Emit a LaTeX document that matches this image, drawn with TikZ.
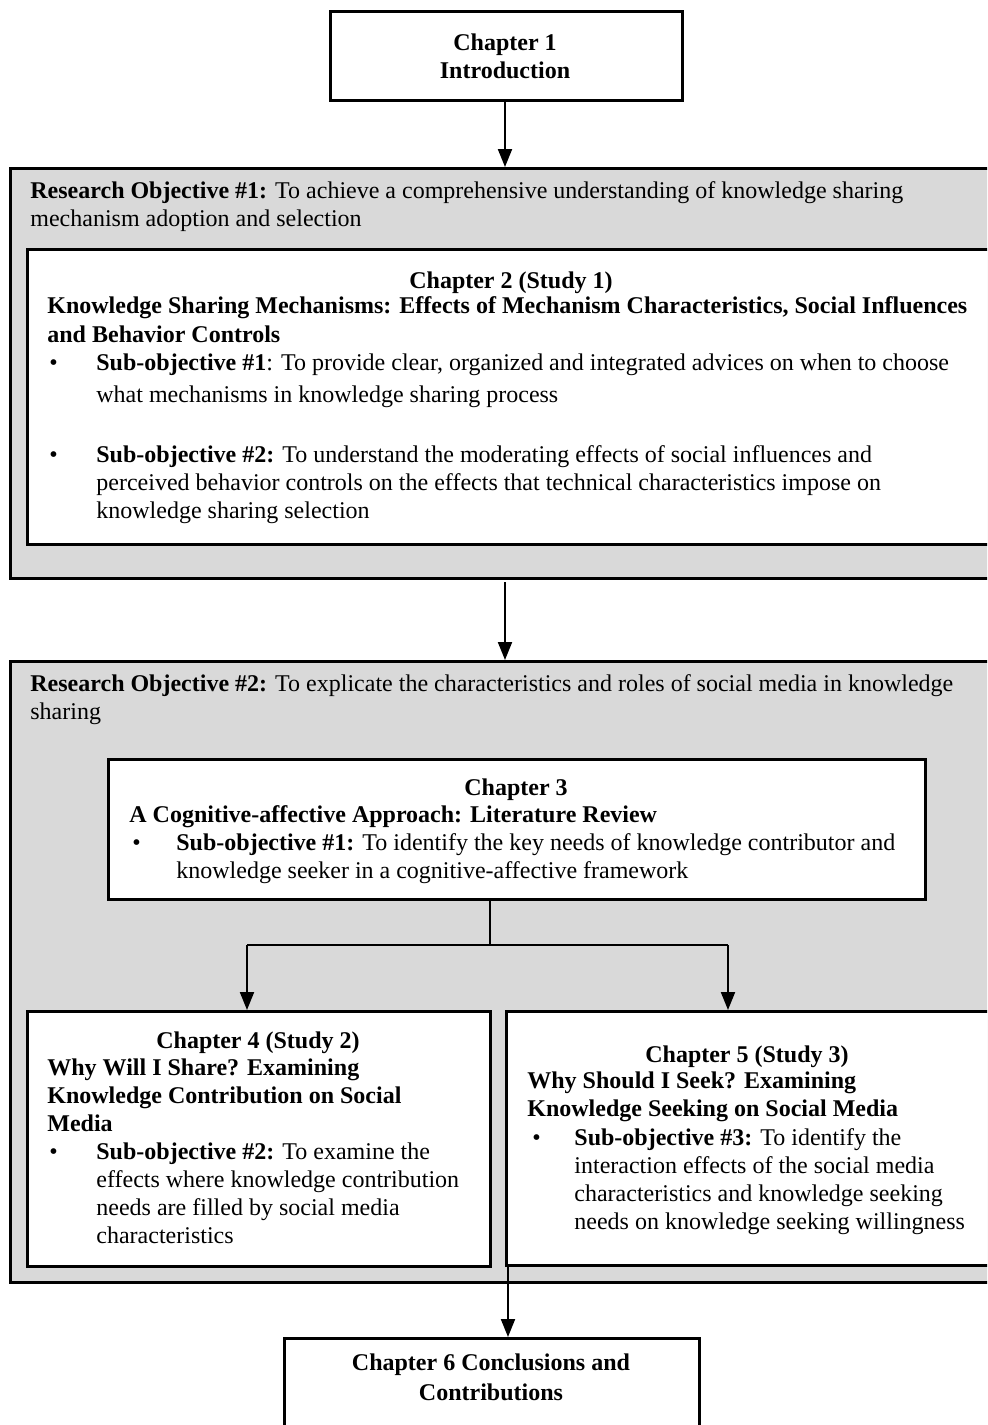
\documentclass[tikz,border=0pt]{standalone}
\usepackage{fontspec}
\setmainfont{Liberation Serif}
\usetikzlibrary{arrows.meta}
\definecolor{panelgray}{HTML}{D9D9D9}
% multi-line blocks whose reference point is the baseline of their first line
\newcommand\leftlines[1]{\begin{tabular}[t]{@{}l@{}}#1\end{tabular}}
\newcommand\midlines[1]{\begin{tabular}[t]{@{}c@{}}#1\end{tabular}}

\begin{document}
\begin{tikzpicture}[x=0.5pt,y=-0.5pt,
  panel/.style={draw, line width=1.5pt, fill=panelgray, anchor=north west, inner sep=0pt},
  card/.style={draw, line width=1.5pt, fill=white, anchor=north west, inner sep=0pt},
  txt/.style={anchor=base west, inner sep=0pt, font=\fontsize{12}{14}\selectfont},
  head/.style={anchor=base, inner sep=0pt, font=\bfseries\fontsize{12}{14}\selectfont},
  flow/.style={line width=1pt, -{Triangle[length=9pt,width=7pt]}},
]
\useasboundingbox (0,0) rectangle (987,1425);
\clip (0,0) rectangle (987,1425);

% ---- boxes ----
\node[card, minimum width=176pt, minimum height=44.5pt] (ch1) at (329,10) {};
\node[panel, minimum width=495.5pt, minimum height=205pt] (obj1) at (9,167) {};
\node[card, minimum width=484.5pt, minimum height=147.5pt] (ch2) at (26,248) {};
\node[panel, minimum width=495.5pt, minimum height=310.5pt] (obj2) at (9,660) {};
\node[card, minimum width=408.5pt, minimum height=70pt] (ch3) at (107,758) {};
\node[card, minimum width=231.5pt, minimum height=127.5pt] (ch4) at (26,1010) {};
\node[card, minimum width=245pt, minimum height=127pt] (ch5) at (505,1010) {};
\node[card, minimum width=207.5pt, minimum height=61.5pt] (ch6) at (283,1337) {};

% ---- texts ----
\node[head] (t1) at (505,50) {\midlines{Chapter 1\\Introduction}};

\node[txt] (t2) at (30,198) {\leftlines{\textbf{Research Objective \#1:} To achieve a comprehensive understanding of knowledge sharing\\mechanism adoption and selection}};
\node[head] (t3) at (511,288) {Chapter 2 (Study 1)};
\node[txt, font=\bfseries\fontsize{12}{14}\selectfont] (t4) at (47,313) {\leftlines{Knowledge Sharing Mechanisms: Effects of Mechanism Characteristics, Social Influences\\[0.5pt]and Behavior Controls}};
\node[txt] (b1) at (49,370) {•};
\node[txt] (t5) at (96,370) {\leftlines{\textbf{Sub-objective \#1}: To provide clear, organized and integrated advices on when to choose\\[2pt]what mechanisms in knowledge sharing process}};
\node[txt] (b2) at (49,462) {•};
\node[txt] (t6) at (96,462) {\leftlines{\textbf{Sub-objective \#2:} To understand the moderating effects of social influences and\\perceived behavior controls on the effects that technical characteristics impose on\\knowledge sharing selection}};

\node[txt] (t7) at (30,691) {\leftlines{\textbf{Research Objective \#2:} To explicate the characteristics and roles of social media in knowledge\\sharing}};
\node[head] (t8) at (516,795) {Chapter 3};
\node[txt, font=\bfseries\fontsize{12}{14}\selectfont] (t9) at (129,822) {A Cognitive-affective Approach: Literature Review};
\node[txt] (b3) at (132,850) {•};
\node[txt] (t10) at (176,850) {\leftlines{\textbf{Sub-objective \#1:} To identify the key needs of knowledge contributor and\\knowledge seeker in a cognitive-affective framework}};

\node[head] (t11) at (258,1048) {Chapter 4 (Study 2)};
\node[txt, font=\bfseries\fontsize{12}{14}\selectfont] (t12) at (47,1075) {\leftlines{Why Will I Share? Examining\\Knowledge Contribution on Social\\Media}};
\node[txt] (b4) at (49,1159) {•};
\node[txt] (t13) at (96,1159) {\leftlines{\textbf{Sub-objective \#2:} To examine the\\effects where knowledge contribution\\needs are filled by social media\\characteristics}};

\node[head] (t14) at (747,1062) {Chapter 5 (Study 3)};
\node[txt, font=\bfseries\fontsize{12}{14}\selectfont] (t15) at (527,1088) {\leftlines{Why Should I Seek? Examining\\Knowledge Seeking on Social Media}};
\node[txt] (b5) at (532,1145) {•};
\node[txt] (t16) at (574,1145) {\leftlines{\textbf{Sub-objective \#3:} To identify the\\interaction effects of the social media\\characteristics and knowledge seeking\\needs on knowledge seeking willingness}};

\node[head] (t17) at (491,1370) {\midlines{Chapter 6 Conclusions and\\[1pt]Contributions}};

% ---- connectors ----
\coordinate (gap1) at (505,582);
\coordinate (split) at (490,945);
\coordinate (lefttee) at (247,945);
\coordinate (righttee) at (728,945);
\coordinate (exit) at (508,1264);

\draw[flow] (ch1.south -| t1) -- (obj1.north -| t1);
\draw[flow] (gap1) -- (gap1 |- obj2.north);
\draw[line width=0.6pt] (ch3.south -| split) -- (split);
\draw[line width=1pt] (lefttee) -- (righttee);
\draw[flow] (lefttee) -- (lefttee |- ch4.north);
\draw[flow] (righttee) -- (righttee |- ch5.north);
\draw[flow] (exit) -- (exit |- ch6.north);
\end{tikzpicture}
\end{document}
